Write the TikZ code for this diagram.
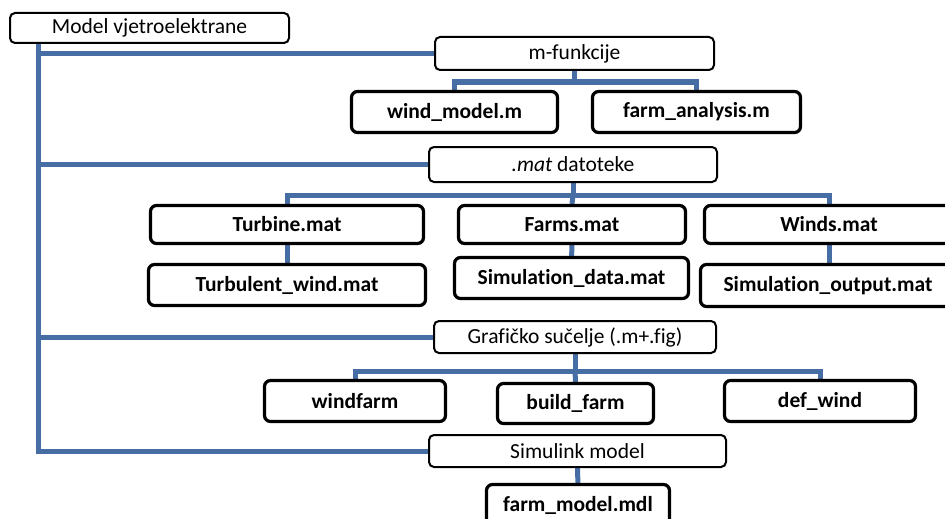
\documentclass[tikz,border=0pt]{standalone}
\usepackage{fontspec}
\setmainfont[Ligatures=NoCommon]{Carlito}
\usepackage{tikz}
\usetikzlibrary{positioning,calc,backgrounds}

\definecolor{busblue}{RGB}{70,110,165}

\begin{document}
\begin{tikzpicture}[
    x=1pt, y=-1pt,
    boxsize/.style 2 args={minimum width=#1pt, minimum height=#2pt},
    groupbox/.style={rectangle, draw, line width=2pt, rounded corners=5pt, fill=white, inner sep=0pt, font=\fontsize{21.5}{25}\selectfont},
    filebox/.style={rectangle, draw, line width=3.2pt, rounded corners=6pt, fill=white, inner sep=0pt, font=\fontsize{21.5}{25}\selectfont\bfseries},
    bus/.style={draw=busblue, line width=5pt}
]
    \useasboundingbox (0,0) rectangle (945,519);

    % Root
    \node[groupbox, boxsize={279}{30}] (root) at (149.5,28) {Model vjetroelektrane};
    \coordinate (spine) at (38,43);

    % m-funkcije
    \node[groupbox, boxsize={279}{33}] (mfun) at (574.5,53.5) {m-funkcije};
    \node[filebox, boxsize={206}{41}] (windm) at (454.5,112) {wind\_model.m};
    \node[filebox, boxsize={208}{41}] (farma) at (696.5,112) {farm\_analysis.m};

    % .mat datoteke
    \node[groupbox, boxsize={288}{35}] (matdat) at (573,164.5) {{\itshape .mat} datoteke};
    \node[filebox, boxsize={273}{38}] (turb) at (287,224.5) {Turbine.mat};
    \node[filebox, boxsize={227}{38}] (farms) at (572,224.5) {Farms.mat};
    \node[filebox, boxsize={249}{38}] (winds) at (829,224.5) {Winds.mat};
    \node[filebox, boxsize={277}{41}] (turbw) at (287,285) {Turbulent\_wind.mat};
    \node[filebox, boxsize={234}{41}] (simd) at (571.5,278) {Simulation\_data.mat};
    \node[filebox, boxsize={255}{42}] (simo) at (828,285.5) {Simulation\_output.mat};

    % Graficko sucelje
    \node[groupbox, boxsize={282}{32}] (graf) at (575,337) {Grafičko sučelje (.m+.fig)};
    \node[filebox, boxsize={181}{41}] (windf) at (355,401) {windfarm};
    \node[filebox, boxsize={156}{40}] (build) at (575.5,403.5) {build\_farm};
    \node[filebox, boxsize={191}{41}] (defw) at (820,401) {def\_wind};

    % Simulink model
    \node[groupbox, boxsize={297}{32}] (simul) at (577.5,451) {Simulink model};
    \node[filebox, boxsize={183}{42}] (fmdl) at (578,505.5) {farm\_model.mdl};

    % Spine and branches
    \begin{scope}[on background layer]
    \draw[bus] (spine) |- (simul.west);
    \draw[bus] (spine |- mfun.west) -- (mfun.west);
    \draw[bus] (spine |- matdat.west) -- (matdat.west);
    \draw[bus] (spine |- graf.west) -- (graf.west);

    \draw[bus] (mfun.south) -- ++(0,11) coordinate (mfj) -| (windm.north);
    \draw[bus] (mfj) -| (farma.north);

    \draw[bus] (matdat.south) -- ++(0,12) coordinate (matj) -| (turb.north);
    \draw[bus] (matj) -- (farms.north);
    \draw[bus] (matj) -| (winds.north);
    \draw[bus] (turb) -- (turbw);
    \draw[bus] (farms) -- (simd);
    \draw[bus] (winds.south) -- (simo.north -| winds.south);

    \draw[bus] (graf.south) -- ++(0,17) coordinate (grafj) -| (windf.north);
    \draw[bus] (grafj) -- (build.north);
    \draw[bus] (grafj) -| (defw.north);

    \draw[bus] (simul) -- (fmdl);
    \end{scope}
\end{tikzpicture}
\end{document}
